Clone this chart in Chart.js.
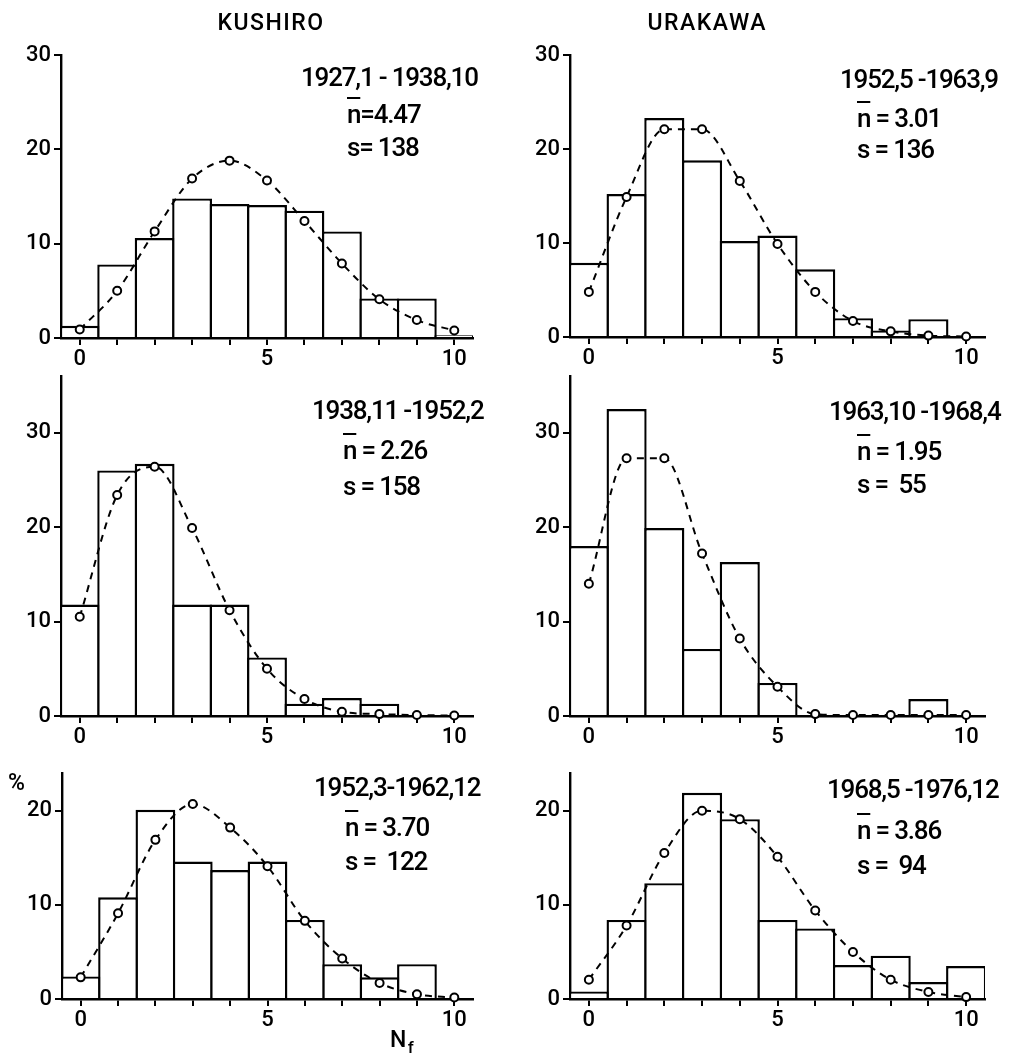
<!DOCTYPE html>
<html>
<head>
<meta charset="utf-8">
<script src="https://cdn.jsdelivr.net/npm/chart.js@4.4.1/dist/chart.umd.min.js"></script>
<style>
  body { margin:0; background:#fff; width:1011px; height:1056px; position:relative; overflow:hidden; font-family: Roboto, sans-serif; color:#000; }
  canvas { position:absolute; }
  .t { position:absolute; white-space:pre; line-height:26px; font-size:26px; letter-spacing:-1.2px; font-weight:500; }
  .ttl { position:absolute; font-size:23px; letter-spacing:1.5px; line-height:23px; font-weight:500; }
  .ov { text-decoration: overline; text-decoration-thickness: 2px; }
</style>
</head>
<body>
<script>
// N_f classes
const bins = ['0', '1', '2', '3', '4', '5', '6', '7', '8', '9', '10'];

// observed frequency (%) = histogram, poisson (%) = dashed line
const kushiro1Obs = [1.3, 7.8, 10.6, 14.8, 14.2, 14.1, 13.5, 11.3, 4.2, 4.2, 0.3];
const kushiro1Poi = [0.9, 5.0, 11.3, 16.9, 18.8, 16.7, 12.4, 7.9, 4.1, 1.9, 0.8];

const urakawa1Obs = [7.9, 15.2, 23.3, 18.8, 10.2, 10.8, 7.2, 2.0, 0.7, 1.9, null];
const urakawa1Poi = [4.8, 14.9, 22.1, 22.1, 16.6, 9.9, 4.8, 1.7, 0.6, 0.15, 0.05];

const kushiro2Obs = [11.8, 26.0, 26.7, 11.8, 11.8, 6.2, 1.3, 1.9, 1.3, null, null];
const kushiro2Poi = [10.5, 23.4, 26.4, 19.9, 11.2, 5.0, 1.8, 0.45, 0.2, 0.1, 0.05];

const urakawa2Obs = [18.0, 32.5, 19.9, 7.1, 16.3, 3.5, null, null, null, 1.8, null];
const urakawa2Poi = [14.0, 27.3, 27.3, 17.2, 8.2, 3.1, 0.2, 0.1, 0.1, 0.1, 0.1];

const kushiro3Obs = [2.4, 10.8, 20.1, 14.6, 13.7, 14.6, 8.4, 3.7, 2.3, 3.7, null];
const kushiro3Poi = [2.3, 9.1, 16.9, 20.7, 18.2, 14.1, 8.3, 4.3, 1.7, 0.5, 0.15];

const urakawa3Obs = [0.8, 8.4, 12.3, 21.9, 19.1, 8.4, 7.5, 3.6, 4.6, 1.8, 3.5];
const urakawa3Poi = [2.05, 7.8, 15.5, 20.0, 19.1, 15.1, 9.4, 5.0, 2.05, 0.75, 0.2];

const periods = ['1927,1 - 1938,10', '1952,5 -1963,9', '1938,11 -1952,2', '1963,10 -1968,4', '1952,3-1962,12', '1968,5 -1976,12'];
const means = ['=4.47', ' = 3.01', ' = 2.26', ' = 1.95', ' = 3.70', ' = 3.86'];
const sizes = ['s= 138', 's = 136', 's = 158', 's =  55', 's =  122', 's =  94'];
const yMaxes = [30, 30, 36, 36, 24, 24];

const obsList = [kushiro1Obs, urakawa1Obs, kushiro2Obs, urakawa2Obs, kushiro3Obs, urakawa3Obs];
const poiList = [kushiro1Poi, urakawa1Poi, kushiro2Poi, urakawa2Poi, kushiro3Poi, urakawa3Poi];

// plot areas on the page: x0 left, x1 right, yt top, yb bottom (value 0)
const boxes = [
  {x0: 61, x1: 473, yt: 55, yb: 338},
  {x0: 570, x1: 985, yt: 55, yb: 337},
  {x0: 61, x1: 473, yt: 376, yb: 716},
  {x0: 570, x1: 985, yt: 376, yb: 716},
  {x0: 62, x1: 473, yt: 773, yb: 999},
  {x0: 570, x1: 985, yt: 773, yb: 999}
];
// text positions: right edge of period, left of n/s lines, centre y of each line
const notePos = [
  {r: 478, l: 347, y: [77, 114, 147]},
  {r: 998, l: 857, y: [79, 118, 149]},
  {r: 483, l: 343, y: [410, 450, 486]},
  {r: 1000, l: 857, y: [411, 451, 484]},
  {r: 480, l: 345, y: [787, 827, 861]},
  {r: 998, l: 857, y: [789, 830, 865]}
];

const PL = 60, PR = 20, PT = 25, PB = 45;
const LW = 2.4;
const tickFont = {family: 'Roboto', size: 22, weight: 500};

function addText(html, cls, left, top) {
  const d = document.createElement('div');
  d.className = cls;
  d.innerHTML = html;
  d.style.left = left + 'px';
  d.style.top = top + 'px';
  document.body.appendChild(d);
  return d;
}

boxes.forEach((b, k) => {
  const cv = document.createElement('canvas');
  cv.width = b.x1 - b.x0 + PL + PR;
  cv.height = b.yb - b.yt + PT + PB;
  cv.style.left = (b.x0 - PL) + 'px';
  cv.style.top = (b.yt - PT) + 'px';
  document.body.appendChild(cv);

  const binW = (b.x1 - b.x0) / bins.length;

  new Chart(cv, {
    type: 'bar',
    data: {
      labels: bins,
      datasets: [
        {
          type: 'line', data: poiList[k], order: 0,
          borderColor: '#000', borderWidth: 2, borderDash: [7, 6],
          pointRadius: 4, pointBorderWidth: 2,
          pointBackgroundColor: '#fff', pointBorderColor: '#000',
          cubicInterpolationMode: 'monotone', clip: false
        },
        {
          type: 'bar', data: obsList[k], order: 1,
          backgroundColor: '#fff', borderColor: '#000', borderWidth: LW,
          barPercentage: (binW + LW) / binW, categoryPercentage: 1
        }
      ]
    },
    options: {
      responsive: false,
      animation: false,
      layout: {padding: {top: PT, right: PR, left: 0, bottom: 0}},
      plugins: {legend: {display: false}, tooltip: {enabled: false}},
      scales: {
        x: {
          offset: true,
          grid: {offset: false, drawOnChartArea: false, drawTicks: true, tickLength: 7, color: '#000', lineWidth: 2},
          border: {display: true, color: '#000', width: LW},
          ticks: {autoSkip: false, maxRotation: 0, padding: 1, color: '#000', font: tickFont,
            callback: (v, i) => i % 5 === 0 ? bins[i] : ''},
          afterFit: s => { s.height = PB; }
        },
        y: {
          min: 0, max: yMaxes[k],
          ticks: {stepSize: 10, padding: 3, color: '#000', font: tickFont},
          grid: {drawOnChartArea: false, drawTicks: true, tickLength: 7, color: '#000', lineWidth: 2},
          border: {display: true, color: '#000', width: LW},
          afterBuildTicks: s => { s.ticks = s.ticks.filter(t => t.value % 10 === 0); },
          afterFit: s => { s.width = PL; }
        }
      }
    }
  });

  const n = notePos[k];
  const p = addText(periods[k], 't', 0, n.y[0] - 13);
  p.style.left = (n.r - p.offsetWidth) + 'px';
  addText('<span class="ov">n</span>' + means[k], 't', n.l, n.y[1] - 13);
  addText(sizes[k], 't', n.l, n.y[2] - 13);
});

// titles and axis names
const t1 = addText('KUSHIRO', 'ttl', 0, 11);
t1.style.left = (271 - t1.offsetWidth / 2) + 'px';
const t2 = addText('URAKAWA', 'ttl', 0, 11);
t2.style.left = (707 - t2.offsetWidth / 2) + 'px';
addText('%', 'ttl', 8, 771);
addText('N<sub style="font-size:17px">f</sub>', 'ttl', 390, 1028);
</script>
</body>
</html>
